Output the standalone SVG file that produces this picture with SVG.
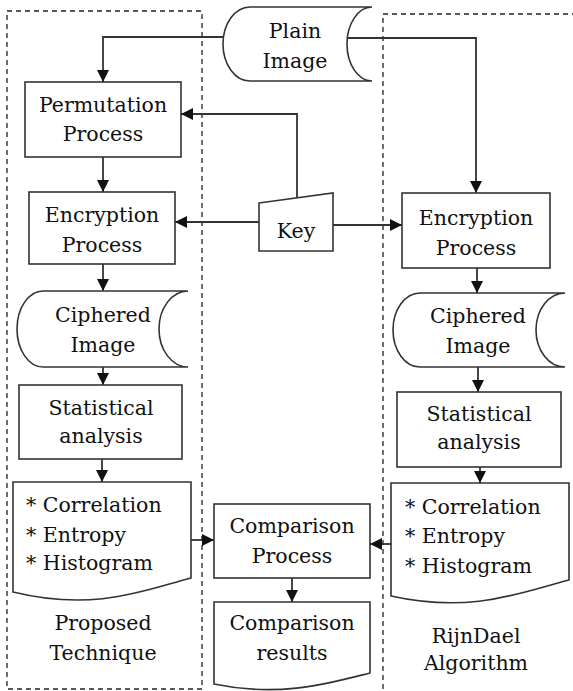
<svg xmlns="http://www.w3.org/2000/svg" width="573" height="691" viewBox="0 0 573 691">
<defs>
<marker id="ah" markerWidth="12" markerHeight="12" refX="12" refY="6" orient="auto" markerUnits="userSpaceOnUse">
<path d="M0,0 L12,6 L0,12 Z" fill="#111"/>
</marker>
<style>
.shape{fill:#fff;stroke:#333;stroke-width:1.6}
.dash{fill:none;stroke:#222;stroke-width:1.3;stroke-dasharray:5,4}
.conn{fill:none;stroke:#333;stroke-width:1.8;marker-end:url(#ah)}
text{font-family:"DejaVu Serif","Liberation Serif",serif;font-size:20.5px;fill:#111;text-anchor:middle}
.lt{text-anchor:start}
</style>
</defs>
<rect width="573" height="691" fill="#fff"/>
<g id="groups">
<rect class="dash" x="7" y="11" width="195" height="678"/>
<rect class="dash" x="383" y="14" width="200" height="700"/>
</g>
<g id="connectors">
<path class="conn" d="M224,37 H103 V82"/>
<path class="conn" d="M348,38 H476 V193"/>
<path class="conn" d="M103,157 V192"/>
<path class="conn" d="M297,198 V114 H181"/>
<path class="conn" d="M259,222 H175"/>
<path class="conn" d="M333,225 H402"/>
<path class="conn" d="M103,264 V291"/>
<path class="conn" d="M103,367 V385"/>
<path class="conn" d="M102,459 V482"/>
<path class="conn" d="M191,540 H214"/>
<path class="conn" d="M391,544 H370"/>
<path class="conn" d="M292,578 V602"/>
<path class="conn" d="M477,268 V293"/>
<path class="conn" d="M478,367 V392"/>
<path class="conn" d="M480,467 V483"/>
</g>
<g id="plain-image">
<path class="shape" d="M250,7 L372,7 A25,37 0 0 0 372,81 L250,81 A27,37 0 0 1 250,7 Z"/>
<text x="295" y="38">Plain</text>
<text x="295" y="68">Image</text>
</g>
<g id="permutation">
<rect class="shape" x="25" y="82" width="156" height="75"/>
<text x="103" y="112">Permutation</text>
<text x="103" y="141">Process</text>
</g>
<g id="encryption-left">
<rect class="shape" x="29" y="192" width="146" height="72"/>
<text x="102" y="222">Encryption</text>
<text x="102" y="252">Process</text>
</g>
<g id="key">
<path class="shape" d="M259,203 L333,193 L333,251 L259,251 Z"/>
<text x="296" y="238">Key</text>
</g>
<g id="encryption-right">
<rect class="shape" x="402" y="193" width="148" height="75"/>
<text x="476" y="225">Encryption</text>
<text x="476" y="255">Process</text>
</g>
<g id="ciphered-left">
<path class="shape" d="M43,291 L188,291 A29,38 0 0 0 188,367 L43,367 A26,38 0 0 1 43,291 Z"/>
<text x="103" y="322">Ciphered</text>
<text x="103" y="352">Image</text>
</g>
<g id="ciphered-right">
<path class="shape" d="M420,293 L565,293 A29,37 0 0 0 565,367 L420,367 A27,37 0 0 1 420,293 Z"/>
<text x="478" y="323">Ciphered</text>
<text x="478" y="353">Image</text>
</g>
<g id="statistical-left">
<rect class="shape" x="19" y="385" width="163" height="74"/>
<text x="101" y="415">Statistical</text>
<text x="101" y="443">analysis</text>
</g>
<g id="statistical-right">
<rect class="shape" x="397" y="392" width="164" height="75"/>
<text x="479" y="421">Statistical</text>
<text x="479" y="449">analysis</text>
</g>
<g id="metrics-left">
<path class="shape" d="M13,482 L191,482 L191,578 C145,590 95,612 13,592 Z"/>
<text class="lt" x="26" y="512">* Correlation</text>
<text class="lt" x="26" y="542">* Entropy</text>
<text class="lt" x="26" y="570">* Histogram</text>
</g>
<g id="metrics-right">
<path class="shape" d="M391,483 L569,483 L569,580 C522,592 472,614 391,596 Z"/>
<text class="lt" x="405" y="514">* Correlation</text>
<text class="lt" x="405" y="543">* Entropy</text>
<text class="lt" x="405" y="573">* Histogram</text>
</g>
<g id="comparison-process">
<rect class="shape" x="214" y="504" width="156" height="74"/>
<text x="292" y="533">Comparison</text>
<text x="292" y="563">Process</text>
</g>
<g id="comparison-results">
<path class="shape" d="M214,602 L370,602 L370,673 C330,683 280,698 214,684 Z"/>
<text x="292" y="630">Comparison</text>
<text x="292" y="660">results</text>
</g>
<g id="labels">
<text x="103" y="630">Proposed</text>
<text x="103" y="660">Technique</text>
<text x="476" y="643">RijnDael</text>
<text x="476" y="670">Algorithm</text>
</g>
</svg>
